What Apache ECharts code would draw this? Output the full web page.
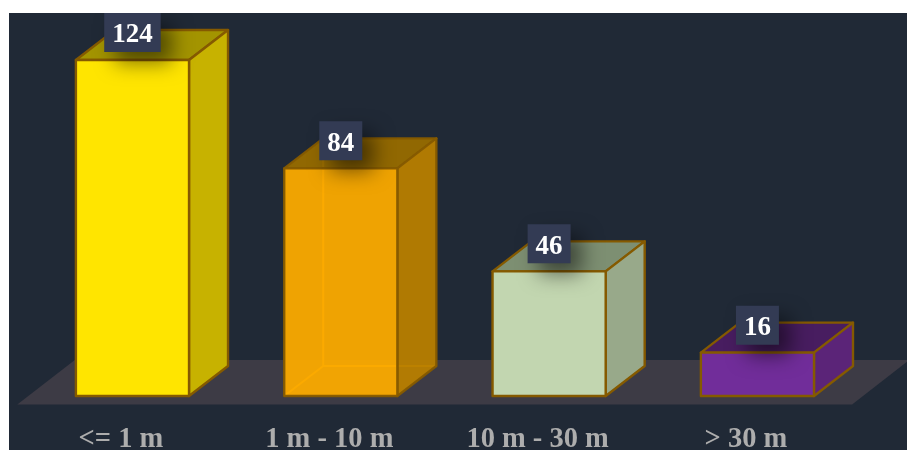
<!DOCTYPE html>
<html>
<head>
<meta charset="utf-8">
<script src="https://cdn.jsdelivr.net/npm/echarts@6/dist/echarts.min.js"></script>
<style>
html,body{margin:0;padding:0;background:#fff;overflow:hidden}
#c{position:absolute;left:9px;top:13px;width:898px;height:437px}
</style>
</head>
<body>
<div id="c"></div>
<script>
var categories = ['<= 1 m', '1 m - 10 m', '10 m - 30 m', '> 30 m'];
var values = [124, 84, 46, 16];
var frontColors = ['#ffe500', '#fbaa00', '#c2d6b0', '#712d9a'];
var sideColors = ['#c7b200', '#b87e00', '#98a98a', '#5b2478'];
var topColors = ['#a39400', '#986c00', '#7d8f72', '#481d60'];
var barOpacity = [1, 0.95, 1, 1];

var DX = 39, DY = -30, EDGE = '#855a00', FONT = '"Liberation Serif","Times New Roman",serif';

var chart = echarts.init(document.getElementById('c'), null, {renderer: 'canvas'});

function renderBar(params, api) {
  var i = api.value(0), v = api.value(1);
  var base = api.coord([i, 0]), top = api.coord([i, v]);
  var w = api.size([1, 0])[0] * 0.543;
  var cx = base[0] + 11.5;
  var l = cx - w / 2, r = cx + w / 2, b = base[1], t = top[1];
  function poly(pts, fill, stroke) {
    return {type: 'polygon', shape: {points: pts}, style: {fill: fill, stroke: stroke || EDGE, lineWidth: 2.4, opacity: barOpacity[i], lineJoin: 'round'}};
  }
  var kids = [];
  if (barOpacity[i] < 1) {
    kids.push({type: 'polyline', shape: {points: [[l + DX, t + DY], [l + DX, b + DY], [r + DX, b + DY]]}, style: {fill: null, stroke: '#ffab00', lineWidth: 2}});
    kids.push({type: 'line', shape: {x1: l, y1: b, x2: l + DX, y2: b + DY}, style: {stroke: '#ffab00', lineWidth: 2}});
  }
  kids.push(poly([[l, t], [r, t], [r + DX, t + DY], [l + DX, t + DY]], topColors[i]));
  kids.push(poly([[r, t], [r + DX, t + DY], [r + DX, b + DY], [r, b]], sideColors[i]));
  kids.push(poly([[l, t], [r, t], [r, b], [l, b]], frontColors[i]));
  kids.push({type: 'text', z2: 10, style: {
    x: cx, y: t - 8, text: String(v), align: 'center', verticalAlign: 'bottom',
    fill: '#fff', font: 'bold 27px ' + FONT, lineHeight: 27,
    backgroundColor: '#333b54', padding: [9, 8, 3, 8],
    shadowBlur: 20, shadowColor: 'rgba(0,0,0,0.5)', shadowOffsetX: 11, shadowOffsetY: 11
  }});
  return {type: 'group', children: kids};
}

function renderFloor(params, api) {
  var s = params.coordSys;
  var b = s.y + s.height, x = s.x;
  return {type: 'polygon', silent: true, shape: {points: [
    [x + 0.5, b + 8.5], [x + s.width + 2, b + 8.5], [x + s.width + 59, b - 36], [x + 58, b - 36]
  ]}, style: {fill: '#3d3b45'}};
}

chart.setOption({
  backgroundColor: '#202936',
  animation: false,
  grid: {left: 7.8, width: 833.3, top: 3.6, height: 379.4, containLabel: false, outerBoundsMode: 'none'},
  xAxis: {
    type: 'category', data: categories,
    axisLine: {show: false}, axisTick: {show: false}, splitLine: {show: false},
    axisLabel: {color: '#adadad', fontFamily: FONT, fontWeight: 'bold', fontSize: 28.5, margin: 29, interval: 0}
  },
  yAxis: {type: 'value', min: 0, max: 140, show: false},
  series: [
    {type: 'custom', z: 1, renderItem: renderFloor, data: [0], silent: true},
    {type: 'custom', z: 2, renderItem: renderBar, clip: false,
     data: values.map(function (v, i) { return [i, v]; }),
     encode: {x: 0, y: 1}}
  ]
});
</script>
</body>
</html>
